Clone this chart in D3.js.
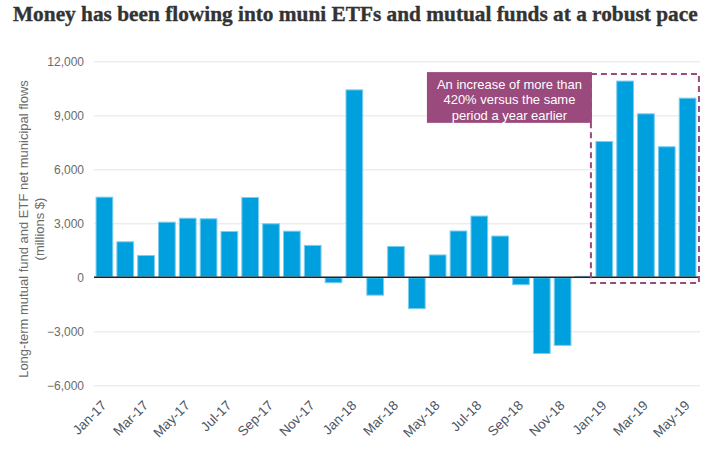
<!DOCTYPE html>
<html><head><meta charset="utf-8">
<script src="https://cdn.jsdelivr.net/npm/d3@7"></script>
<style>
html,body{margin:0;padding:0;background:#fff;}
svg{display:block;}
</style></head>
<body>
<svg id="chart" width="718" height="455"></svg>
<script>
const months = ["Jan-17","Feb-17","Mar-17","Apr-17","May-17","Jun-17","Jul-17","Aug-17","Sep-17","Oct-17","Nov-17","Dec-17",
"Jan-18","Feb-18","Mar-18","Apr-18","May-18","Jun-18","Jul-18","Aug-18","Sep-18","Oct-18","Nov-18","Dec-18",
"Jan-19","Feb-19","Mar-19","Apr-19","May-19"];
const flows = [4480,2000,1240,3090,3310,3280,2570,4460,3000,2590,1800,-330,
10440,-1020,1740,-1770,1270,2600,3430,2320,-440,-4260,-3810,80,
7570,10930,9110,7280,9980];
const yTicks = [-6000,-3000,0,3000,6000,9000,12000];
const xTickLabels = ["Jan-17","Mar-17","May-17","Jul-17","Sep-17","Nov-17","Jan-18","Mar-18","May-18","Jul-18","Sep-18","Nov-18","Jan-19","Mar-19","May-19"];
const highlightMonths = ["Jan-19","Feb-19","Mar-19","Apr-19","May-19"];
const titleText = "Money has been flowing into muni ETFs and mutual funds at a robust pace";
const yTitle = ["Long-term mutual fund and ETF net municipal flows","(millions $)"];
const noteLines = ["An increase of more than","420% versus the same","period a year earlier"];

const svg = d3.select("#chart");
const L = 94, R = 700;
const x = d3.scaleBand().domain(months).range([L, 698]).paddingInner(0.15).paddingOuter(0.075);
const y = d3.scaleLinear().domain([-6000, 12000]).range([385.3, 61.3]);
const sans = "'Liberation Sans', Arial, sans-serif";

// title
const t = svg.append("text").attr("x", 13).attr("y", 21)
  .attr("font-family", "'Liberation Serif', 'DejaVu Serif', serif")
  .attr("font-weight", "bold").attr("font-size", 20).attr("fill", "#333333")
  .attr("stroke", "#333333").attr("stroke-width", 0.35)
  .text(titleText);
t.attr("font-size", 20 * 685 / t.node().getComputedTextLength());

// gridlines
const yAxis = d3.axisLeft(y).tickValues(yTicks).tickSize(-(R - L)).tickFormat(d3.format(","));
const gy = svg.append("g").attr("transform", `translate(${L},0)`).call(yAxis);
gy.select(".domain").remove();
gy.selectAll(".tick line").attr("stroke", "#e4e4e4").attr("stroke-width", 1);
gy.selectAll(".tick text").attr("x", -10).attr("fill", "#6b6b6b")
  .attr("font-family", sans).attr("font-size", 12);

// y title
const yt = svg.append("text").attr("transform", "translate(0,229) rotate(-90)")
  .attr("text-anchor", "middle").attr("fill", "#6b6b6b")
  .attr("font-family", sans).attr("font-size", 14);
const yt1 = yt.append("tspan").attr("x", 0).attr("y", 28).text(yTitle[0]);
yt.append("tspan").attr("x", 0).attr("y", 44).text(yTitle[1]);
yt.attr("font-size", 14 * 298 / yt1.node().getComputedTextLength());

// bars
svg.append("g").selectAll("rect").data(months).join("rect")
  .attr("x", d => x(d) + 0.5)
  .attr("width", x.bandwidth() - 1)
  .attr("y", (d, i) => y(Math.max(0, flows[i])) + 0.5)
  .attr("height", (d, i) => Math.max(0.5, Math.abs(y(flows[i]) - y(0)) - 1))
  .attr("fill", "#009fdd").attr("stroke", "#7ccdef").attr("stroke-width", 1);

// zero line
svg.append("line").attr("x1", L).attr("x2", R).attr("y1", y(0)).attr("y2", y(0))
  .attr("stroke", "#222").attr("stroke-width", 1.5);

// x axis labels
const xAxis = d3.axisBottom(x).tickValues(xTickLabels).tickSize(0);
const gx = svg.append("g").attr("transform", `translate(0,${y(-6000)})`).call(xAxis);
gx.select(".domain").remove();
gx.selectAll(".tick text")
  .attr("font-family", sans).attr("font-size", 13.5)
  .attr("fill", "#4d5563").attr("text-anchor", "end")
  .attr("dy", 0).attr("y", 0)
  .attr("transform", "translate(3,21) rotate(-45)");

// highlight dashed box
const hx0 = x(highlightMonths[0]) - 4.5;
const hx1 = x(highlightMonths[highlightMonths.length - 1]) + x.bandwidth() + 2.5;
const hy0 = y(11300), hy1 = y(-320);
svg.append("rect").attr("x", hx0).attr("y", hy0).attr("width", hx1 - hx0).attr("height", hy1 - hy0)
  .attr("fill", "none").attr("stroke", "#9a4a7c").attr("stroke-width", 2).attr("stroke-dasharray", "6,4");

// annotation box
const bx1 = hx0 + 1, bx0 = bx1 - 165;
const by0 = y(11400), by1 = y(8580);
svg.append("rect").attr("x", bx0).attr("y", by0).attr("width", bx1 - bx0).attr("height", by1 - by0)
  .attr("fill", "#9a4a7c");
const nt = svg.append("text").attr("text-anchor", "middle").attr("fill", "#ffffff")
  .attr("font-family", sans).attr("font-size", 14);
const nts = noteLines.map((s, i) => nt.append("tspan").attr("x", (bx0 + bx1) / 2).attr("y", by0 + 16.5 + i * 15.5).text(s));
nt.attr("font-size", 14 * 145 / nts[0].node().getComputedTextLength());
</script>
</body></html>
